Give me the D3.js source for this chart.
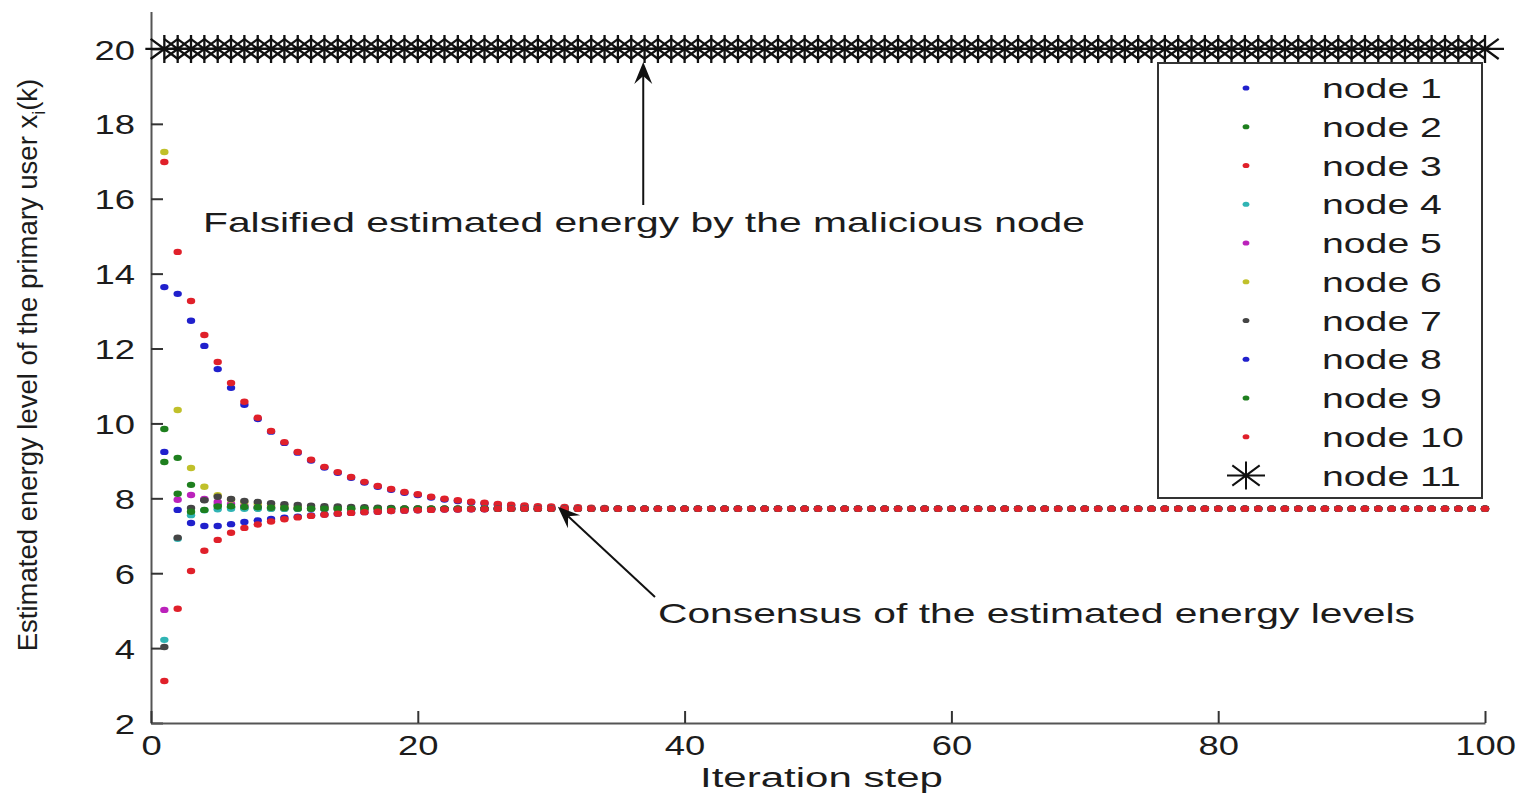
<!DOCTYPE html>
<html>
<head>
<meta charset="utf-8">
<script src="https://cdn.jsdelivr.net/npm/d3@7"></script>
<style>
  body { margin: 0; background: #fff; }
  text { font-family: "Liberation Sans", Arial, sans-serif; fill: #1c1c1c; }
</style>
</head>
<body>
<svg id="chart" width="1524" height="794"></svg>
<script>
// iteration steps 1..100
var steps = d3.range(1, 101);
var nodeNames = ['node 1','node 2','node 3','node 4','node 5','node 6','node 7','node 8','node 9','node 10','node 11'];
var nodeColors = ['#2020cc','#1e7f1e','#e0202a','#30b4b4','#bb22bb','#c0c02a','#454545','#2020cc','#1e7f1e','#e0202a','#000000'];

// level where every honest node settles (flat part of the plot)
var consensusLevel = 7.72;
// falsified level sent by the malicious node
var maliciousLevel = 20;

// transient part of each honest node (k = 1, 2, ...)
var node1 = [13.64,13.46,12.74,12.07,11.45,10.95,10.50,10.12,9.78,9.48,9.22,9.01,8.82,8.68,8.55,8.42,8.31,8.23,8.15,8.09,8.02,7.97,7.93,7.89,7.86,7.83,7.81,7.79,7.77,7.76,7.75,7.74,7.73,7.73,7.72];
var node2 = [9.85,9.08,8.36,7.96,7.82,7.76,7.74,7.73,7.73,7.72];
var node3 = [16.98,14.58,13.27,12.36,11.64,11.08,10.58,10.15,9.80,9.50,9.24,9.03,8.84,8.70,8.57,8.44,8.33,8.25,8.17,8.11,8.04,7.99,7.95,7.91,7.88,7.85,7.83,7.81,7.79,7.78,7.77,7.76,7.75,7.74,7.73,7.73,7.72];
var node4 = [4.22,6.92,7.55,7.68,7.71,7.72];
var node5 = [5.02,7.96,8.09,7.98,7.90,7.85,7.81,7.78,7.76,7.75,7.74,7.73,7.72];
var node6 = [17.25,10.36,8.81,8.31,8.08,7.97,7.90,7.85,7.81,7.78,7.76,7.75,7.74,7.73,7.72];
var node7 = [4.03,6.95,7.74,7.95,8.04,7.98,7.93,7.90,7.87,7.84,7.82,7.80,7.79,7.78,7.77,7.76,7.75,7.74,7.73,7.73,7.72];
var node8 = [9.24,7.69,7.34,7.26,7.26,7.31,7.37,7.41,7.45,7.48,7.51,7.54,7.57,7.59,7.61,7.63,7.64,7.66,7.67,7.68,7.69,7.70,7.70,7.71,7.71,7.72];
var node9 = [8.97,8.12,7.64,7.69,7.78,7.79,7.77,7.76,7.75,7.74,7.73,7.72];
var node10 = [3.12,5.05,6.06,6.60,6.89,7.08,7.21,7.30,7.38,7.44,7.49,7.53,7.56,7.59,7.61,7.63,7.64,7.66,7.67,7.68,7.69,7.70,7.70,7.71,7.71,7.72];
var node11 = [maliciousLevel];

var xTicks = [0, 20, 40, 60, 80, 100];
var yTicks = [2, 4, 6, 8, 10, 12, 14, 16, 18, 20];

// after the transient each node stays on its last read level
function fullSeries(head) {
    return steps.map(function(k, i) { return i < head.length ? head[i] : head[head.length - 1]; });
}

var series = [node1,node2,node3,node4,node5,node6,node7,node8,node9,node10,node11].map(fullSeries);

var svg = d3.select('#chart');

var x = d3.scaleLinear().domain([0, 100]).range([151, 1485]);
var y = d3.scaleLinear().domain([2, 21]).range([723, 11.5]);

// text in the picture is wider than normal, so stretch it
function stretch(sel, k) {
    sel.each(function() {
        var w = this.getComputedTextLength();
        d3.select(this).attr('textLength', w * k).attr('lengthAdjust', 'spacingAndGlyphs');
    });
}

// axes (matlab style: ticks inside, no box)
var yAxis = d3.axisLeft(y).tickValues(yTicks).tickSizeInner(-12).tickSizeOuter(0).tickPadding(16);
var xAxis = d3.axisBottom(x).tickValues(xTicks).tickSizeInner(-12).tickSizeOuter(0).tickPadding(12);

var gy = svg.append('g').attr('transform', 'translate(' + x(0) + ',0)').call(yAxis);
var gx = svg.append('g').attr('transform', 'translate(0,' + y(2) + ')').call(xAxis);

[gx, gy].forEach(function(g) {
    g.select('.domain').attr('stroke', '#555').attr('stroke-width', 2);
    g.selectAll('.tick line').attr('stroke', '#333').attr('stroke-width', 2);
    g.selectAll('.tick text').style('font-size', '28px').attr('fill', '#1c1c1c')
        .style('font-family', '"Liberation Sans", Arial, sans-serif');
});
gy.selectAll('.tick text').attr('dy', '0.36em');
stretch(gx.selectAll('.tick text'), 1.3);
stretch(gy.selectAll('.tick text'), 1.3);

// axis labels
var xLabel = svg.append('text')
    .attr('x', 700).attr('y', 787)
    .style('font-size', '27px')
    .text('Iteration step');
xLabel.attr('textLength', 243).attr('lengthAdjust', 'spacingAndGlyphs');

var yLabel = svg.append('text')
    .attr('transform', 'translate(37,365) rotate(-90)')
    .attr('text-anchor', 'middle')
    .style('font-size', '27.5px');
yLabel.append('tspan').text('Estimated energy level of the primary user x');
yLabel.append('tspan').attr('dy', 8).style('font-size', '18px').text('i');
yLabel.append('tspan').attr('dy', -8).text('(k)');

// data marks
var marks = svg.append('g');

function starPath(cx, cy) {
    var hw = 19, hh = 14, dw = hw * 0.72, dh = hh * 0.72;
    return 'M' + (cx - hw) + ',' + cy + 'H' + (cx + hw) +
           'M' + cx + ',' + (cy - hh) + 'V' + (cy + hh) +
           'M' + (cx - dw) + ',' + (cy - dh) + 'L' + (cx + dw) + ',' + (cy + dh) +
           'M' + (cx - dw) + ',' + (cy + dh) + 'L' + (cx + dw) + ',' + (cy - dh);
}

series.forEach(function(vals, n) {
    if (n < 10) {
        marks.append('g').selectAll('ellipse')
            .data(vals)
            .enter().append('ellipse')
            .attr('cx', function(d, i) { return x(steps[i]); })
            .attr('cy', function(d) { return y(d); })
            .attr('rx', 4.2)
            .attr('ry', 3.2)
            .attr('fill', nodeColors[n]);
    } else {
        marks.append('g').selectAll('path')
            .data(vals)
            .enter().append('path')
            .attr('d', function(d, i) { return starPath(x(steps[i]), y(d)); })
            .attr('stroke', '#111')
            .attr('stroke-width', 2.3)
            .attr('fill', 'none');
    }
});

// annotations with arrows
function arrow(x1, y1, x2, y2) {
    var ang = Math.atan2(y2 - y1, x2 - x1);
    var L = 22, W = 9, N = 14;
    var c = Math.cos(ang), s = Math.sin(ang);
    function pt(a, b) { return [x2 + a * c - b * s, y2 + a * s + b * c]; }
    var base = pt(-N, 0);
    svg.append('line')
        .attr('x1', x1).attr('y1', y1).attr('x2', base[0]).attr('y2', base[1])
        .attr('stroke', '#111').attr('stroke-width', 2);
    svg.append('path')
        .attr('d', d3.line()([pt(0, 0), pt(-L, -W), pt(-N, 0), pt(-L, W)]) + 'Z')
        .attr('fill', '#111');
}

var note1 = svg.append('text')
    .attr('x', 203).attr('y', 232)
    .style('font-size', '28px')
    .text('Falsified estimated energy by the malicious node');
note1.attr('textLength', 882).attr('lengthAdjust', 'spacingAndGlyphs');
arrow(x(36.9), 205, x(36.9), 62);

var note2 = svg.append('text')
    .attr('x', 658).attr('y', 623)
    .style('font-size', '28px')
    .text('Consensus of the estimated energy levels');
note2.attr('textLength', 757).attr('lengthAdjust', 'spacingAndGlyphs');
arrow(655, 597, x(30.5), y(consensusLevel) - 2);

// legend
var legend = svg.append('g');
legend.append('rect')
    .attr('x', 1158).attr('y', 63).attr('width', 324).attr('height', 435)
    .attr('fill', '#fff').attr('stroke', '#333').attr('stroke-width', 2);

var rowY = d3.scaleLinear().domain([0, 10]).range([88, 475.5]);
nodeNames.forEach(function(name, n) {
    var cy = rowY(n);
    if (n < 10) {
        legend.append('ellipse')
            .attr('cx', 1246).attr('cy', cy).attr('rx', 3.4).attr('ry', 2.6)
            .attr('fill', nodeColors[n]);
    } else {
        legend.append('path')
            .attr('d', starPath(1246, cy))
            .attr('stroke', '#111').attr('stroke-width', 2).attr('fill', 'none');
    }
    legend.append('text')
        .attr('x', 1322).attr('y', cy + 10)
        .style('font-size', '28px')
        .text(name);
});
stretch(legend.selectAll('text'), 1.4);
</script>
</body>
</html>
